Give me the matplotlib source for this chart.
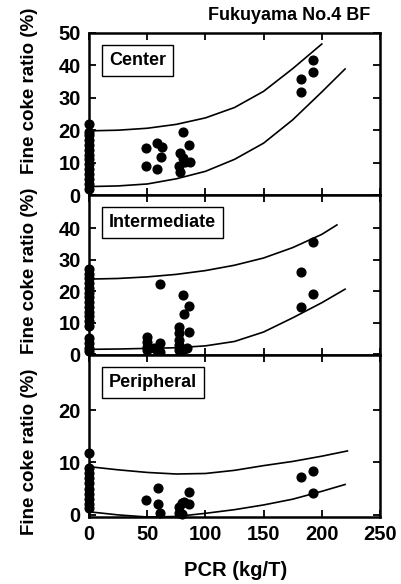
import numpy as np
import matplotlib
matplotlib.use('Agg')
from matplotlib import pyplot as plt

plt.rcParams['font.family'] = ['Liberation Sans', 'DejaVu Sans']
plt.rcParams['font.weight'] = 'bold'

# --- data ---
center_x = [0]*14 + [48.7, 48.7, 58.2, 62.4, 61.6, 58.2, 81.0, 78.2, 85.9, 81.0, 86.8, 77.3, 78.2, 82.5,
                     181.8, 181.8, 192.7, 192.7]
center_y = [2, 3.5, 5, 6.5, 8, 9.5, 11, 12.5, 14, 15.5, 17, 18.5, 19.5, 22,
            14.6, 9.0, 16.0, 14.9, 11.8, 7.9, 19.3, 13.1, 15.4, 11.3, 10.1, 9.0, 7.2, 10.3,
            35.8, 31.7, 41.7, 37.9]
center_up_x = [0, 25, 50, 75, 100, 125, 150, 175, 200]
center_up = [19.8, 20.0, 20.6, 21.8, 23.8, 27.0, 32.0, 39.0, 46.6]
center_lo_x = [0, 25, 50, 75, 100, 125, 150, 175, 200, 220]
center_lo = [2.6, 2.8, 3.4, 5.0, 7.3, 11.0, 16.0, 23.2, 31.8, 38.9]

inter_x = [0]*17 + [49.5, 49.5, 49.5, 49.5, 56, 58, 61, 61, 61, 77.6, 77.6, 77.6, 77.6, 77.6,
                    81, 86.2, 81.6, 86.2, 83.8, 81, 181.8, 181.8, 192.7, 192.7]
inter_y = [27, 25.5, 24, 22.5, 21, 19.5, 18, 16.5, 15, 13.5, 12, 10.5, 9, 5, 3.5, 2, 1,
           5.5, 3.9, 2.3, 1.3, 1.8, 1.3, 3.4, 0.7, 22.4, 8.7, 6.6, 4.4, 2.9, 1.3,
           18.7, 15.3, 12.7, 6.9, 1.8, 1.3, 25.9, 14.8, 35.7, 19.0]
inter_up_x = [0, 25, 50, 75, 100, 125, 150, 175, 200, 213]
inter_up = [23.8, 24.0, 24.5, 25.3, 26.5, 28.2, 30.5, 33.8, 38.0, 41.0]
inter_lo_x = [0, 25, 50, 75, 100, 125, 150, 175, 200, 220]
inter_lo = [1.5, 1.6, 1.8, 2.0, 2.6, 4.0, 7.0, 11.5, 16.3, 20.6]

peri_x = [0]*10 + [49, 59, 59, 61, 77.3, 79.6, 81.9, 85.9, 85.9, 77.3, 79.6, 181.8, 192.7, 192.7]
peri_y = [11.8, 8.9, 8, 7, 6, 5, 4, 3, 2, 1.3,
          2.9, 5.1, 2.0, 0.4, 1.6, 2.2, 2.5, 4.3, 2.0, 0.4, 0.2, 7.3, 8.3, 4.1]
peri_up_x = [0, 25, 50, 75, 100, 125, 150, 175, 200, 222]
peri_up = [9.2, 8.6, 8.1, 7.8, 7.9, 8.5, 9.4, 10.2, 11.2, 12.2]
peri_lo_x = [0, 25, 50, 75, 100, 125, 150, 175, 200, 220]
peri_lo = [0.6, 0.0, -0.4, -0.3, 0.3, 1.0, 1.9, 3.0, 4.5, 5.8]

panels = [
    ('Center', center_x, center_y, center_up_x, center_up, center_lo_x, center_lo,
     (0, 50), [0, 10, 20, 30, 40, 50]),
    ('Intermediate', inter_x, inter_y, inter_up_x, inter_up, inter_lo_x, inter_lo,
     (-0.3, 50.5), [0, 10, 20, 30, 40]),
    ('Peripheral', peri_x, peri_y, peri_up_x, peri_up, peri_lo_x, peri_lo,
     (-0.4, 30.5), [0, 10, 20]),
]

W, H = 401, 584
fig = plt.figure(figsize=(W/100, H/100), dpi=100)
# axes boxes in pixels: (top, bottom)
boxes = [(33, 195), (195, 355), (355, 517)]
label_y = [0.642, 0.525, 0.40]
left, right = 89, 380

for i, (name, px, py, ux, uy, lx, ly, ylim, yt) in enumerate(panels):
    top, bot = boxes[i]
    ax = fig.add_axes([left/W, 1 - bot/H, (right-left)/W, (bot-top)/H])
    ax.plot(ux, uy, color='black', lw=1.2)
    ax.plot(lx, ly, color='black', lw=1.2)
    ax.plot(px, py, 'o', color='black', ms=6.3, clip_on=False, zorder=5)
    ax.set_xlim(0, 250)
    ax.set_ylim(*ylim)
    ax.set_xticks([0, 50, 100, 150, 200, 250])
    ax.set_yticks(yt)
    ax.tick_params(direction='in', length=5, width=1.3, top=True, right=True,
                   labelsize=14.5, pad=6)
    for s in ax.spines.values():
        s.set_linewidth(1.8)
    if i < 2:
        ax.tick_params(labelbottom=False)
    ax.set_ylabel('Fine coke ratio (%)', fontsize=13.5, fontweight='bold')
    ax.yaxis.set_label_coords(-0.175, label_y[i])
    ax.text(0.069, 1 - 19/(bot-top), name, transform=ax.transAxes, ha='left', va='top',
            fontsize=13, fontweight='bold',
            bbox=dict(boxstyle='square,pad=0.38', fc='white', ec='black', lw=1))
    if i == 2:
        ax.set_xlabel('PCR (kg/T)', fontsize=14.5, fontweight='bold')
        ax.xaxis.set_label_coords(0.505, -0.27)

fig.text(370/W, 1 - 15/H, 'Fukuyama No.4 BF', ha='right', va='center',
         fontsize=13, fontweight='bold')

fig.savefig('out.png', dpi=100)
